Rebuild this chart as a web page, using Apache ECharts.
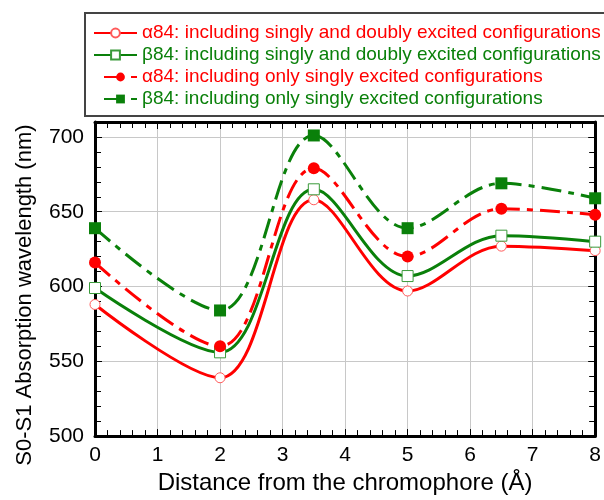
<!DOCTYPE html>
<html><head><meta charset="utf-8">
<script src="https://cdn.jsdelivr.net/npm/echarts@6/dist/echarts.min.js"></script>
<style>html,body{margin:0;padding:0;background:#fff}#c{width:604px;height:500px}</style>
</head><body><div id="c"></div>
<script>
const distances = [0, 2, 3.5, 5, 6.5, 8];
const alphaDouble = [588, 539, 658, 597, 627, 624];
const betaDouble  = [599, 556, 665, 607, 634, 630];
const alphaSingle = [616, 560, 679, 620, 652, 648];
const betaSingle  = [639, 584, 701, 639, 669, 659];
const names = [
  'α84: including singly and doubly excited configurations',
  'β84: including singly and doubly excited configurations',
  'α84: including only singly excited configurations',
  'β84: including only singly excited configurations'
];
const RED = '#ff0000', GREEN = '#0a800a';
const FONT = 'Liberation Sans, Arial, sans-serif';
function pts(v){ return distances.map((d,i)=>[d, v[i]]); }
const dashDot = [20, 7, 6, 7];
function ser(name, vals, color, symbol, filled, dashed, size){
  return {
    name, type:'line', data: pts(vals), smooth: 0.35,
    symbol, symbolSize: size, showSymbol:true,
    lineStyle:{color, width:3, type: dashed ? dashDot : 'solid'},
    itemStyle:{color: filled ? color : '#fff', borderColor: filled ? color : (color===RED ? '#ff5a5a' : '#3a9a3a'), borderWidth: filled ? 0 : 1, opacity:1},
    z: filled ? 4 : 3
  };
}
function ticks(){
  return {
    axisLine:{show:true, onZero:false, lineStyle:{color:'#000', width:3}},
    axisTick:{show:true, inside:true, length:7, lineStyle:{color:'#000', width:1}},
    minorTick:{show:true, splitNumber:5, length:6, lineStyle:{color:'#000', width:1}}
  };
}
const chart = echarts.init(document.getElementById('c'));
const legendText = i => ({fontFamily:FONT, fontSize:19, lineHeight:20, color: i%2===0 ? RED : GREEN});
chart.setOption({
  animation:false,
  backgroundColor:'#fff',
  grid:{left:95, right:8, top:122, bottom:59},
  graphic:[{type:'rect', shape:{x:85, y:13, width:530, height:103}, style:{fill:'none', stroke:'#444', lineWidth:2}, z:0}],
  legend:[
    {orient:'vertical', left:93, top:23, itemGap:2, itemWidth:43, itemHeight:11, padding:0,
     data: names.slice(0,2).map((n,i)=>({name:n, textStyle:legendText(i)}))},
    {orient:'vertical', left:103, top:67, itemGap:2, itemWidth:33, itemHeight:11, padding:0,
     data: names.slice(2).map((n,i)=>({name:n, textStyle:legendText(i)}))}
  ],
  xAxis:[
    Object.assign({type:'value', min:0, max:8, interval:1, position:'bottom',
      axisLabel:{fontFamily:FONT, fontSize:21, color:'#000', margin:9},
      splitLine:{show:true, lineStyle:{color:'#c8c8c8', width:1}},
      name:'Distance from the chromophore (Å)', nameLocation:'middle', nameGap:33,
      nameTextStyle:{fontFamily:FONT, fontSize:24, color:'#000'}}, ticks()),
    Object.assign({type:'value', min:0, max:8, interval:1, position:'top',
      axisLabel:{show:false}, splitLine:{show:false}}, ticks())
  ],
  yAxis:[
    Object.assign({type:'value', min:500, max:710, interval:50, position:'left',
      axisLabel:{fontFamily:FONT, fontSize:21, color:'#000', margin:11,
        formatter: v => v > 700 ? '' : v},
      splitLine:{show:true, lineStyle:{color:'#c8c8c8', width:1}},
      name:'S0-S1 Absorption wavelength (nm)', nameLocation:'middle', nameGap:59,
      nameTextStyle:{fontFamily:FONT, fontSize:22, color:'#000', padding:[0,32,0,0]}}, ticks()),
    Object.assign({type:'value', min:500, max:710, interval:50, position:'right',
      axisLabel:{show:false}, splitLine:{show:false}}, ticks())
  ],
  series:[
    ser(names[0], alphaDouble, RED, 'circle', false, false, 10),
    ser(names[1], betaDouble, GREEN, 'rect', false, false, 11),
    ser(names[2], alphaSingle, RED, 'circle', true, true, 12),
    ser(names[3], betaSingle, GREEN, 'rect', true, true, 12)
  ]
});
</script></body></html>
